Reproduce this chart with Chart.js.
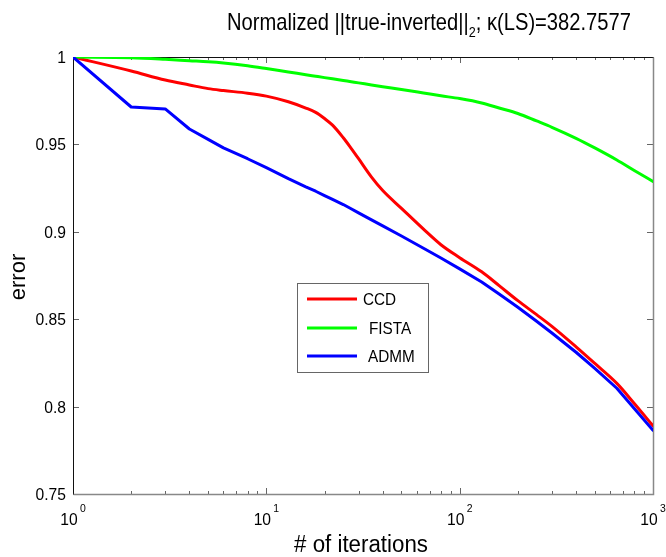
<!DOCTYPE html>
<html>
<head>
<meta charset="utf-8">
<script src="https://cdn.jsdelivr.net/npm/chart.js@4/dist/chart.umd.min.js"></script>
<style>
  html, body { margin: 0; padding: 0; background: #fff; }
  canvas { display: block; }
</style>
</head>
<body>
<canvas id="myChart" width="666" height="557"></canvas>
<script>
// iterations (x, log scale) and the three error curves
const iterations = [1, 2, 3, 4, 5, 6, 8, 10, 13, 16, 18, 20, 22, 25, 27, 30, 35, 40, 50, 65, 80, 100, 130, 160, 200, 250, 300, 400, 500, 650, 800, 1000];
const ccd   = [1.0, 0.992, 0.9868, 0.984, 0.9819, 0.9808, 0.9793, 0.9776, 0.9744, 0.9708, 0.9683, 0.9648, 0.9610, 0.9538, 0.9489, 0.9418, 0.9313, 0.9236, 0.9134, 0.9015, 0.8926, 0.8852, 0.8771, 0.8692, 0.8606, 0.8526, 0.8459, 0.8342, 0.8247, 0.8133, 0.8018, 0.789];
const fista = [1.0, 0.9996, 0.9987, 0.9979, 0.9973, 0.9966, 0.9950, 0.9934, 0.9914, 0.9899, 0.9890, 0.9882, 0.9875, 0.9866, 0.9860, 0.9852, 0.9840, 0.9830, 0.9814, 0.9794, 0.9778, 0.9762, 0.9737, 0.9708, 0.9677, 0.9634, 0.9598, 0.9535, 0.948, 0.9411, 0.9351, 0.9288];
const admm  = [1.0, 0.9714, 0.9703, 0.9588, 0.9529, 0.948, 0.9418, 0.9367, 0.9304, 0.9257, 0.9232, 0.9207, 0.9185, 0.9156, 0.9136, 0.9108, 0.9068, 0.9034, 0.8976, 0.8906, 0.8850, 0.8788, 0.8713, 0.8644, 0.8568, 0.8488, 0.8421, 0.8311, 0.8219, 0.8105, 0.7989, 0.7865];

const seriesNames = ['CCD', 'FISTA', 'ADMM'];
const seriesColors = ['#ff0000', '#00ff00', '#0000ff'];
const yTicks = [1, 0.95, 0.9, 0.85, 0.8, 0.75];
const xExponents = [0, 1, 2, 3];

const FONT = '"Liberation Sans", Arial, sans-serif';

const toPoints = (vals) => iterations.map((it, i) => ({ x: it, y: vals[i] }));

function txt(ctx, s, x, y, size, align, sx) {
  ctx.save();
  ctx.translate(x, y);
  ctx.scale(sx || 1, 1);
  ctx.font = size + 'px ' + FONT;
  ctx.textAlign = align || 'left';
  ctx.textBaseline = 'alphabetic';
  ctx.fillStyle = '#000';
  ctx.fillText(s, 0, 0);
  ctx.restore();
}

// axes box, inward ticks (matlab style)
const axesBox = {
  id: 'axesBox',
  beforeDatasetsDraw(chart) {
    const { ctx, chartArea: a, scales: { x, y } } = chart;
    ctx.save();
    ctx.lineWidth = 1;
    // ticks
    ctx.strokeStyle = '#666';
    ctx.beginPath();
    yTicks.forEach(v => {
      const py = Math.round(y.getPixelForValue(v)) + 0.5;
      ctx.moveTo(a.left, py); ctx.lineTo(a.left + 6, py);
      ctx.moveTo(a.right, py); ctx.lineTo(a.right - 6, py);
    });
    xExponents.forEach((e, k) => {
      const dec = Math.pow(10, e);
      const px = Math.round(x.getPixelForValue(dec)) + 0.5;
      ctx.moveTo(px, a.bottom); ctx.lineTo(px, a.bottom - 6);
      ctx.moveTo(px, a.top); ctx.lineTo(px, a.top + 6);
      if (k < xExponents.length - 1) {
        for (let m = 2; m <= 9; m++) {
          const qx = Math.round(x.getPixelForValue(m * dec)) + 0.5;
          ctx.moveTo(qx, a.bottom); ctx.lineTo(qx, a.bottom - 3);
          ctx.moveTo(qx, a.top); ctx.lineTo(qx, a.top + 3);
        }
      }
    });
    ctx.stroke();
    // box
    const L = Math.round(a.left) + 0.5, R = Math.round(a.right) + 0.5;
    const T = Math.round(a.top) + 0.5, B = Math.round(a.bottom) + 0.5;
    ctx.strokeStyle = '#111';
    ctx.beginPath();
    ctx.moveTo(L, B); ctx.lineTo(L, T); ctx.lineTo(R, T);
    ctx.stroke();
    ctx.strokeStyle = '#888';
    ctx.lineWidth = 1.5;
    ctx.beginPath();
    ctx.moveTo(L, B); ctx.lineTo(R, B); ctx.lineTo(R, T);
    ctx.stroke();
    ctx.restore();
  },
  afterDatasetsDraw(chart) {
    const { ctx } = chart;
    // legend box
    ctx.save();
    ctx.fillStyle = '#fff';
    ctx.fillRect(297, 283, 131, 89);
    ctx.strokeStyle = '#666';
    ctx.lineWidth = 1;
    ctx.strokeRect(297.5, 283.5, 131, 89);
    const rows = [299, 328, 356];
    const textX = [363, 369, 368];
    seriesNames.forEach((n, i) => {
      ctx.strokeStyle = seriesColors[i];
      ctx.lineWidth = 3;
      ctx.beginPath();
      ctx.moveTo(307, rows[i]); ctx.lineTo(357, rows[i]);
      ctx.stroke();
      txt(ctx, n, textX[i], rows[i] + 6, 17, 'left', 0.9);
    });
    ctx.restore();
  },
  afterDraw(chart) {
    const { ctx, scales: { x, y } } = chart;
    // y tick labels
    yTicks.forEach(v => {
      const py = y.getPixelForValue(v);
      txt(ctx, String(v), 66, py + 6, 17, 'right', 0.92);
    });
    // x tick labels 10^e
    xExponents.forEach(e => {
      const px = x.getPixelForValue(Math.pow(10, e));
      txt(ctx, '10', px - 4, 525, 17, 'center', 0.92);
      txt(ctx, String(e), px + 7, 512, 11, 'left', 0.95);
    });
    // axis labels
    txt(ctx, '# of iterations', 361, 552, 23, 'center', 0.97);
    ctx.save();
    ctx.translate(25, 277);
    ctx.rotate(-Math.PI / 2);
    txt(ctx, 'error', 0, 0, 22, 'center', 1);
    ctx.restore();
    // title with subscript
    const parts1 = 'Normalized ||true-inverted||';
    const parts2 = '; \u03BA(LS)=382.7577';
    const sx = 0.84;
    ctx.save();
    ctx.font = '24px ' + FONT;
    const w1 = ctx.measureText(parts1).width * sx;
    const w2 = ctx.measureText(parts2).width * sx;
    ctx.font = '15px ' + FONT;
    const ws = ctx.measureText('2').width * sx;
    ctx.restore();
    const total = w1 + ws + w2;
    const x0 = 429 - total / 2;
    txt(ctx, parts1, x0, 30, 24, 'left', sx);
    txt(ctx, '2', x0 + w1, 37, 15, 'left', sx);
    txt(ctx, parts2, x0 + w1 + ws, 30, 24, 'left', sx);
  }
};

let myChart;

const setup = () => {
  const ctxt = document.getElementById('myChart').getContext('2d');
  myChart = new Chart(ctxt, {
    type: 'line',
    data: {
      datasets: [
        { label: seriesNames[0], data: toPoints(ccd),   borderColor: seriesColors[0], order: 2, cubicInterpolationMode: 'monotone' },
        { label: seriesNames[1], data: toPoints(fista), borderColor: seriesColors[1], order: 1, cubicInterpolationMode: 'monotone' },
        { label: seriesNames[2], data: toPoints(admm),  borderColor: seriesColors[2], order: 0 }
      ]
    },
    options: {
      responsive: false,
      animation: false,
      devicePixelRatio: 1,
      layout: { padding: { left: 73, right: 13, top: 57, bottom: 63 } },
      elements: {
        line: { borderWidth: 3, tension: 0, fill: false, borderCapStyle: 'round', borderJoinStyle: 'round' },
        point: { radius: 0, hoverRadius: 0 }
      },
      plugins: { legend: { display: false }, title: { display: false }, tooltip: { enabled: false } },
      scales: {
        x: { type: 'logarithmic', min: 1, max: 1000, display: false },
        y: { type: 'linear', min: 0.75, max: 1, display: false }
      }
    },
    plugins: [axesBox]
  });
};

window.addEventListener('DOMContentLoaded', setup);
</script>
</body>
</html>
